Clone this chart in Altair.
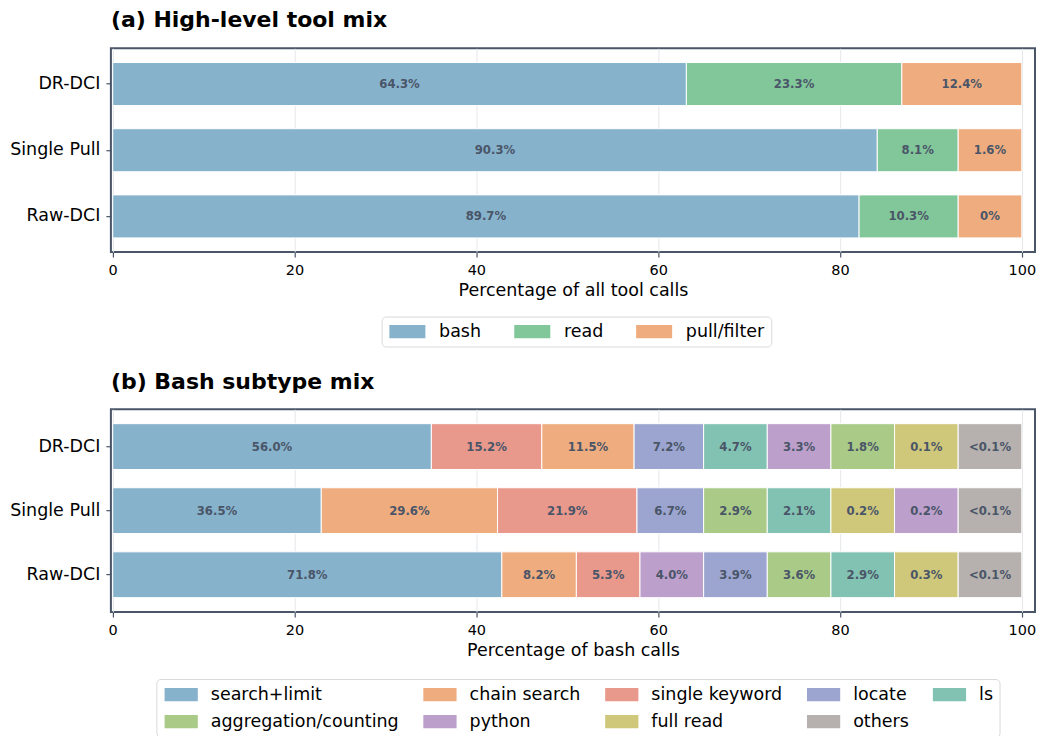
import altair as alt
import pandas as pd

groups = ["DR-DCI", "Single Pull", "Raw-DCI"]

# ---- Panel (a): high-level tool mix ----
tools = ["bash", "read", "pull/filter"]
tool_colors = ["#86b2cc", "#82c79a", "#efad7f"]
# displayed segment widths (as drawn) and printed labels
a_dr_widths = [63.1, 23.7, 13.2]
a_sp_widths = [84.1, 8.9, 7.0]
a_raw_widths = [82.1, 10.9, 7.0]
a_dr_labels = ["64.3%", "23.3%", "12.4%"]
a_sp_labels = ["90.3%", "8.1%", "1.6%"]
a_raw_labels = ["89.7%", "10.3%", "0%"]

# ---- Panel (b): bash subtype mix ----
subtypes = ["search+limit", "chain search", "single keyword", "locate", "ls",
            "aggregation/counting", "python", "full read", "others"]
subtype_colors = ["#86b2cc", "#efad7f", "#e9998c", "#9ba5cf", "#82c2b3",
                  "#a9cb87", "#bc9fcb", "#cfc87b", "#b6b1ae"]
b_dr_order = ["search+limit", "single keyword", "chain search", "locate", "ls",
              "python", "aggregation/counting", "full read", "others"]
b_dr_widths = [35.05, 12.15, 10.15, 7.65, 7, 7, 7, 7, 7]
b_dr_labels = ["56.0%", "15.2%", "11.5%", "7.2%", "4.7%", "3.3%", "1.8%", "0.1%", "<0.1%"]
b_sp_order = ["search+limit", "chain search", "single keyword", "locate",
              "aggregation/counting", "ls", "full read", "python", "others"]
b_sp_widths = [22.94, 19.39, 15.34, 7.33, 7, 7, 7, 7, 7]
b_sp_labels = ["36.5%", "29.6%", "21.9%", "6.7%", "2.9%", "2.1%", "0.2%", "0.2%", "<0.1%"]
b_raw_order = ["search+limit", "chain search", "single keyword", "python", "locate",
               "aggregation/counting", "ls", "full read", "others"]
b_raw_widths = [42.8, 8.2, 7, 7, 7, 7, 7, 7, 7]
b_raw_labels = ["71.8%", "8.2%", "5.3%", "4.0%", "3.9%", "3.6%", "2.9%", "0.3%", "<0.1%"]

FONT = "DejaVu Sans"
LABEL_COLOR = "#4a5568"


def build_rows(group, cats, widths, labels):
    rows = []
    s = 0.0
    for c, w, l in zip(cats, widths, labels):
        rows.append({"group": group, "cat": c, "start": s, "end": s + w,
                     "mid": s + w / 2, "label": l})
        s += w
    return rows


df_a = pd.DataFrame(
    build_rows("DR-DCI", tools, a_dr_widths, a_dr_labels)
    + build_rows("Single Pull", tools, a_sp_widths, a_sp_labels)
    + build_rows("Raw-DCI", tools, a_raw_widths, a_raw_labels)
)
df_b = pd.DataFrame(
    build_rows("DR-DCI", b_dr_order, b_dr_widths, b_dr_labels)
    + build_rows("Single Pull", b_sp_order, b_sp_widths, b_sp_labels)
    + build_rows("Raw-DCI", b_raw_order, b_raw_widths, b_raw_labels)
)

xscale = alt.Scale(domain=[-0.2, 101.45], nice=False, zero=False)


def panel(df, title, xtitle, cats, colors, legend, pin, pout, height, toff):
    base = alt.Chart(df)
    bars = base.mark_bar(stroke="white", strokeWidth=1).encode(
        x=alt.X("start:Q", scale=xscale,
                axis=alt.Axis(values=[0, 20, 40, 60, 80, 100], title=xtitle)),
        x2="end:Q",
        y=alt.Y("group:N", sort=groups,
                scale=alt.Scale(paddingInner=pin, paddingOuter=pout),
                axis=alt.Axis(title=None)),
        color=alt.Color("cat:N", scale=alt.Scale(domain=cats, range=colors),
                        legend=legend),
    )
    text = base.mark_text(font=FONT, fontSize=11.7, fontWeight="bold",
                          color=LABEL_COLOR, baseline="middle", align="center").encode(
        x=alt.X("mid:Q", scale=xscale),
        y=alt.Y("group:N", sort=groups),
        text="label:N",
    )
    return alt.layer(bars, text).properties(
        width=925, height=height,
        title=alt.TitleParams(title, anchor="start", frame="group", fontSize=22,
                              fontWeight="bold", font=FONT, color="black", offset=toff),
    )


legend_a = alt.Legend(
    title=None, orient="none", legendX=271, legendY=268.5, direction="horizontal",
    symbolType="M-1,-0.95H4.15V0.95H-1Z", symbolSize=196, symbolStrokeWidth=0,
    symbolOpacity=1, labelOffset=34, columnPadding=31, padding=6,
    strokeColor="#d9d9d9", cornerRadius=4, labelFontSize=17.5, labelFont=FONT,
    labelColor="black", fillColor="white", labelLimit=400,
)
legend_b = alt.Legend(
    title=None, orient="none", legendX=45.5, legendY=270, direction="horizontal",
    columns=5, symbolType="M-1,-0.95H3.75V0.95H-1Z", symbolSize=196,
    symbolStrokeWidth=0, symbolOpacity=1, labelOffset=30.5, columnPadding=22,
    rowPadding=8.5, padding=6.5, strokeColor="#d9d9d9", cornerRadius=4,
    labelFontSize=17.5, labelFont=FONT, labelColor="black", fillColor="white",
    labelLimit=400,
)

chart_a = panel(df_a, "(a) High-level tool mix", "Percentage of all tool calls",
                tools, tool_colors, legend_a, 0.35, 0.215, 204, 16)
chart_b = panel(df_b, "(b) Bash subtype mix", "Percentage of bash calls",
                subtypes, subtype_colors, legend_b, 0.285, 0.225, 203, 15.4)

chart = alt.vconcat(chart_a, chart_b, spacing=21.3).resolve_scale(
    color="independent", y="independent", x="independent"
).properties(
    padding={"left": 0, "top": 0, "right": 0, "bottom": 0}
).configure(
    font=FONT
).configure_view(
    stroke="#4a5568", strokeWidth=2
).configure_axisX(
    grid=True, gridColor="#e5e7eb", gridWidth=1, domain=False,
    tickColor="#4a5568", tickSize=5, tickWidth=1.2, labelFontSize=14.5,
    labelColor="black", labelPadding=6, labelFlush=False, labelFont=FONT,
    titleFontSize=17.5, titleFontWeight="normal", titleColor="black",
    titlePadding=4.5, titleFont=FONT,
).configure_axisY(
    grid=False, domain=False, tickColor="#4a5568", tickSize=5, tickWidth=1.2,
    labelFontSize=17.5, labelColor="black", labelPadding=6, labelFont=FONT,
)

chart.save("out.html", embed_options={"renderer": "svg", "actions": False})
